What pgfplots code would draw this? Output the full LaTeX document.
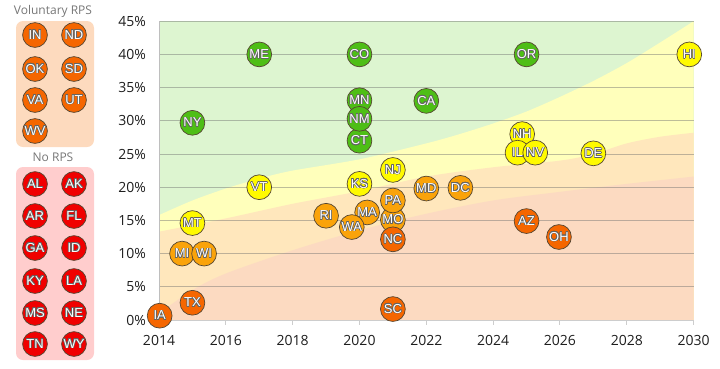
\documentclass[border=0pt]{standalone}
\usepackage{pgfplots}
\pgfplotsset{compat=1.18}
\usepackage{fontspec}
\setmainfont{Open Sans}
\newfontfamily\bubfont{Liberation Sans}
\usepackage{contour}
\contourlength{0.55pt}
\definecolor{bgGreen}{RGB}{221,245,208}
\definecolor{bgYellow}{RGB}{255,255,187}
\definecolor{bgLOrange}{RGB}{255,231,188}
\definecolor{bgSalmon}{RGB}{252,218,193}
\definecolor{cGreen}{RGB}{78,190,22}
\definecolor{cYellow}{RGB}{255,250,0}
\definecolor{cLOrange}{RGB}{250,163,10}
\definecolor{cDOrange}{RGB}{245,102,0}
\definecolor{cRed}{RGB}{240,0,0}
\definecolor{bubEdge}{RGB}{85,70,50}
\definecolor{txtOutline}{RGB}{100,100,100}
\definecolor{panelOrange}{RGB}{253,218,190}
\definecolor{panelPink}{RGB}{255,205,205}
\definecolor{titleGray}{RGB}{118,118,118}
\definecolor{tickText}{RGB}{30,30,30}
\definecolor{xAxisGray}{RGB}{205,205,205}
\definecolor{yAxisGray}{RGB}{190,190,190}
\definecolor{gridGray}{RGB}{110,110,110}
\pgfplotsset{
  bubble/.style={only marks, mark=*, mark size=12.4pt,
    mark options={draw=bubEdge, line width=0.7pt, fill=#1},
    point meta=explicit symbolic,
    nodes near coords={\contour{txtOutline}{\pgfplotspointmeta}},
    every node near coord/.append style={anchor=center, inner sep=0pt,
      font=\bubfont\fontsize{13}{14}\selectfont, text=white}},
}
\begin{document}
\begin{tikzpicture}
\path (0,0) rectangle (720pt,368pt);
% ---- left panel ----
\begin{axis}[at={(0pt,0pt)}, anchor=south west, scale only axis,
  width=110pt, height=368pt, xmin=0, xmax=110, ymin=0, ymax=368,
  y dir=reverse, axis lines=none, clip=false]
\fill[panelOrange, rounded corners=7pt] (axis cs:16,21) rectangle (axis cs:94,147);
\fill[panelPink, rounded corners=7pt] (axis cs:16,167) rectangle (axis cs:94,360);
\node[font=\fontsize{12}{14}\selectfont, text=titleGray] at (axis cs:53,11) {Voluntary RPS};
\node[font=\fontsize{12}{14}\selectfont, text=titleGray] at (axis cs:53,157) {No RPS};
\addplot[bubble=cDOrange] coordinates {
 (35,35) [IN] (74,35) [ND] (35,69) [OK] (74,69) [SD] (35,100) [VA] (74,100) [UT] (35,131) [WV]};
\addplot[bubble=cRed] coordinates {
 (35,184) [AL] (74,184) [AK] (35,216) [AR] (74,216) [FL] (35,248) [GA] (74,248) [ID]
 (35,281) [KY] (74,281) [LA] (35,313) [MS] (74,313) [NE] (35,344) [TN] (74,344) [WY]};
\end{axis}
% ---- main chart ----
\begin{axis}[at={(159pt,48pt)}, anchor=south west, scale only axis,
  width=534.6pt, height=298.8pt,
  xmin=2014, xmax=2030, ymin=0, ymax=45, clip=false, set layers,
  xtick={2014,2016,...,2030}, ytick={0,5,...,45},
  /pgf/number format/assume math mode=true,
  /pgf/number format/1000 sep={},
  yticklabel={\pgfmathprintnumber{\tick}\%},
  ticklabel style={font=\fontsize{14}{16}\selectfont, text=tickText},
  xticklabel style={yshift=-7pt},
  yticklabel style={xshift=-5pt},
  axis x line*=bottom, axis y line*=left,
  tick align=outside, major tick length=4.5pt,
  every y tick/.append style={draw=none},
  x axis line style={draw=xAxisGray, line width=1pt},
  y axis line style={draw=yAxisGray, line width=1pt},
  xtick style={draw=xAxisGray, line width=1pt},
  ymajorgrids, grid style={draw=gridGray, opacity=0.45, line width=0.8pt},
]
\addplot[on layer=axis background, fill=bgGreen, draw=none] coordinates {(2014,45) (2030,45)} \closedcycle;
\addplot[on layer=axis background, fill=bgYellow, draw=none, smooth] coordinates {
 (2014,15.8) (2015,18) (2016,19.8) (2017,21.3) (2018,22.5) (2020,24.2) (2022,26.6)
 (2023,28) (2024,29.6) (2025,31.4) (2026,33.6) (2027,36) (2028,38.7) (2029,41.8) (2030,45)} \closedcycle;
\addplot[on layer=axis background, fill=bgLOrange, draw=none, smooth] coordinates {
 (2014,13.3) (2016,15.3) (2018,17.5) (2020,19.4) (2022,21.6) (2024,23) (2026,24)
 (2027,25) (2028,26.6) (2029,27.6) (2030,28.2)} \closedcycle;
\addplot[on layer=axis background, fill=bgSalmon, draw=none, smooth] coordinates {
 (2014,1) (2015,4.5) (2016,7) (2018,10.5) (2020,13.5) (2022,16) (2024,18) (2026,19.3)
 (2028,20.5) (2030,21.6)} \closedcycle;
% bubbles
\addplot[bubble=cGreen] coordinates {
 (2017,40) [ME] (2020,40) [CO] (2025,40) [OR] (2015,29.7) [NY]
 (2020,27) [CT] (2020,33.1) [MN] (2020,30.3) [NM] (2022,33) [CA]};
\addplot[bubble=cYellow] coordinates {
 (2017,20) [VT] (2020,20.5) [KS] (2021,22.6) [NJ] (2015,14.6) [MT]
 (2024.87,28) [NH] (2024.73,25.2) [IL] (2025.26,25.2) [NV] (2027,25.1) [DE] (2029.87,40) [HI]};
\addplot[bubble=cLOrange] coordinates {
 (2014.69,10) [MI] (2015.35,10) [WI] (2019,15.7) [RI] (2020.23,16.2) [MA] (2019.77,14) [WA]
 (2021,15.1) [MO] (2021,18) [PA] (2022,19.8) [MD] (2023.02,19.9) [DC]};
\addplot[bubble=cDOrange] coordinates {
 (2014.02,0.65) [IA] (2015,2.6) [TX] (2021,12.15) [NC] (2021,1.65) [SC]
 (2025,14.9) [AZ] (2025.97,12.5) [OH]};
\end{axis}
\end{tikzpicture}
\end{document}
